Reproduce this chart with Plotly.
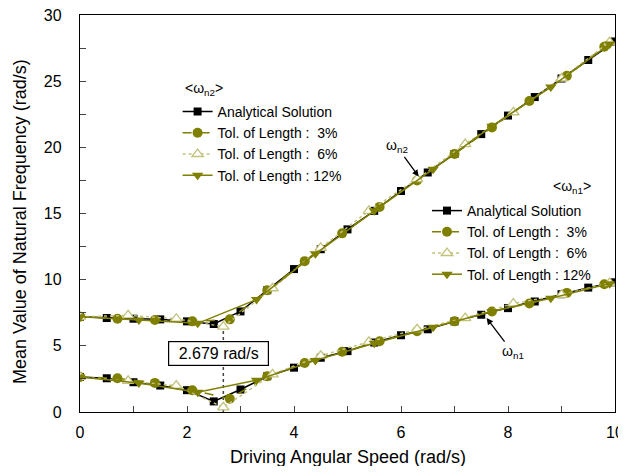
import plotly.graph_objects as go

# ---------------- data ----------------
# Analytical solution (every 0.5 rad/s)
x_ana = [0, 0.5, 1, 1.5, 2, 2.5, 3, 3.5, 4, 4.5, 5, 5.5, 6, 6.5, 7, 7.5, 8, 8.5, 9, 9.5, 10]
wn2_ana = [7.2, 7.1, 7.05, 7.0, 6.85, 6.65, 7.6, 9.2, 10.8, 12.3, 13.8, 15.2, 16.7, 18.1, 19.5, 21.0, 22.4, 23.8, 25.2, 26.6, 28.0]
wn1_ana = [2.65, 2.55, 2.25, 2.0, 1.65, 0.8, 1.7, 2.7, 3.35, 4.1, 4.6, 5.25, 5.8, 6.25, 6.85, 7.35, 7.85, 8.35, 8.9, 9.4, 9.8]

# Tolerance of length 3%
x_t3 = [0, 0.7, 1.4, 2.1, 2.8, 3.5, 4.2, 4.9, 5.6, 6.3, 7.0, 7.7, 8.4, 9.1, 9.8]
wn2_t3 = [7.2, 7.05, 6.95, 6.85, 7.0, 9.2, 11.4, 13.5, 15.5, 17.5, 19.5, 21.5, 23.5, 25.4, 27.6]
wn1_t3 = [2.65, 2.55, 2.2, 1.65, 1.0, 2.7, 3.7, 4.55, 5.35, 6.1, 6.85, 7.6, 8.2, 9.0, 9.65]

# Tolerance of length 6%
x_t6 = [0, 0.9, 1.8, 2.679, 3.6, 4.5, 5.4, 6.3, 7.2, 8.1, 9.0, 9.9]
wn2_t6 = [7.2, 7.3, 7.05, 6.45, 9.35, 12.4, 15.2, 17.6, 20.25, 22.65, 25.2, 27.95]
wn1_t6 = [2.65, 2.35, 2.0, 0.35, 2.85, 4.25, 5.3, 6.25, 7.1, 8.2, 8.85, 9.75]

# Tolerance of length 12%
x_t12 = [0, 1.1, 2.2, 3.3, 4.4, 5.5, 6.6, 7.7, 8.8, 9.9]
wn2_t12 = [7.2, 6.95, 6.7, 8.5, 11.95, 15.2, 18.35, 21.6, 24.55, 27.8]
wn1_t12 = [2.65, 2.2, 1.5, 2.4, 3.9, 5.2, 6.4, 7.6, 8.6, 9.7]

x_min = 2.679
min_label = "2.679 rad/s"
names = ["Analytical Solution", "Tol. of Length :\u00a0\u00a03%",
         "Tol. of Length :\u00a0\u00a06%", "Tol. of Length : 12%"]

OLIVE = "#7f7f00"
PALE = "#c2c27e"
FONT = "Liberation Sans, Arial, sans-serif"

# page has an 8px body margin, so the figure is drawn 8px in from the window edge
OFF = 8
W, H = 626 - OFF, 474 - 2 * OFF
# plot area (window pixels): left 80, right 615, top 15, bottom 412
L, R, T, B = 80 - OFF, 11, 15 - OFF, 54
PW, PH = W - L - R, H - T - B

def px(xr):
    return (xr - OFF - L) / PW

def py(yr):
    return (H - B - (yr - OFF)) / PH

fig = go.Figure()

def add_set(xs_list, ys_list, legend):
    styles = [
        dict(line=dict(color="black", width=1.5, dash="solid"),
             marker=dict(symbol="square", size=8, color="black")),
        dict(line=dict(color=OLIVE, width=1.5, dash="dash"),
             marker=dict(symbol="circle", size=10, color=OLIVE)),
        dict(line=dict(color=PALE, width=1.5, dash="dot"),
             marker=dict(symbol="triangle-up", size=10, color="white",
                         line=dict(color=PALE, width=1.3))),
        dict(line=dict(color=OLIVE, width=1.5, dash="solid"),
             marker=dict(symbol="triangle-down", size=10, color=OLIVE)),
    ]
    for xs, ys, nm, st in zip(xs_list, ys_list, names, styles):
        fig.add_trace(go.Scatter(x=xs, y=ys, mode="lines+markers", name=nm,
                                 legend=legend, line=st["line"], marker=st["marker"]))

add_set([x_ana, x_t3, x_t6, x_t12], [wn2_ana, wn2_t3, wn2_t6, wn2_t12], "legend")
add_set([x_ana, x_t3, x_t6, x_t12], [wn1_ana, wn1_t3, wn1_t6, wn1_t12], "legend2")

# dotted marker line at minimum
fig.add_shape(type="line", x0=x_min, x1=x_min, y0=0, y1=6.4,
              line=dict(color="#444444", width=1.5, dash="dot"), layer="below")

fig.add_annotation(x=2.59, y=4.4, text=min_label, showarrow=False,
                   font=dict(size=16, color="black", family=FONT),
                   width=97, height=21, align="center",
                   bgcolor="white", bordercolor="black", borderwidth=1.2, borderpad=1)

fig.add_annotation(x=6.33, y=17.8, ax=-22, ay=-30, text="ω<sub>n2</sub>",
                   showarrow=True, arrowhead=2, arrowsize=1, arrowwidth=1.3, arrowcolor="black",
                   font=dict(size=14, color="black", family=FONT))
fig.add_annotation(x=7.6, y=7.1, ax=26, ay=34, text="ω<sub>n1</sub>",
                   showarrow=True, arrowhead=2, arrowsize=1, arrowwidth=1.3, arrowcolor="black",
                   font=dict(size=14, color="black", family=FONT))

# legend titles
fig.add_annotation(xref="paper", yref="paper", x=px(204), y=py(89), xanchor="center", yanchor="middle",
                   text="&lt;ω<sub>n2</sub>&gt;", showarrow=False,
                   font=dict(size=14, color="black", family=FONT))
fig.add_annotation(xref="paper", yref="paper", x=px(572), y=py(187), xanchor="center", yanchor="middle",
                   text="&lt;ω<sub>n1</sub>&gt;", showarrow=False,
                   font=dict(size=14, color="black", family=FONT))

# axis titles
fig.add_annotation(xref="paper", yref="paper", x=px(20), y=py(222), xanchor="center", yanchor="middle",
                   text="Mean Value of Natural Frequency (rad/s)", textangle=-90, showarrow=False,
                   font=dict(size=18, color="black", family=FONT))
fig.add_annotation(xref="paper", yref="paper", x=px(348), y=py(457), xanchor="center", yanchor="middle",
                   text="Driving Angular Speed (rad/s)", showarrow=False,
                   font=dict(size=18, color="black", family=FONT))

legend_style = dict(bgcolor="rgba(0,0,0,0)", font=dict(size=14, color="black", family=FONT),
                    xanchor="left", yanchor="top", itemwidth=30, tracegroupgap=0)
fig.update_layout(
    width=W, height=H,
    margin=dict(l=L, r=R, t=T, b=B, autoexpand=False),
    paper_bgcolor="white", plot_bgcolor="white",
    font=dict(family=FONT, size=14, color="black"),
    legend=dict(x=px(177.6), y=py(96), **legend_style),
    legend2=dict(x=px(427), y=py(195), **legend_style),
    xaxis=dict(range=[0, 10], dtick=2, ticks="inside", ticklen=6, tickwidth=1.3,
               minor=dict(dtick=1, ticks="inside", ticklen=6, tickwidth=1.3),
               showline=True, linecolor="black", linewidth=1.3, mirror=True,
               showgrid=False, zeroline=False, automargin=False,
               ticklabeloverflow="allow",
               ticklabelstandoff=6, tickfont=dict(size=16)),
    yaxis=dict(range=[0, 30], dtick=5, ticks="inside", ticklen=6, tickwidth=1.3,
               minor=dict(dtick=2.5, ticks="inside", ticklen=6, tickwidth=1.3),
               showline=True, linecolor="black", linewidth=1.3, mirror=True,
               showgrid=False, zeroline=False, automargin=False,
               ticklabeloverflow="allow",
               ticklabelstandoff=14, tickfont=dict(size=16)),
)

fig.write_html("out.html")
